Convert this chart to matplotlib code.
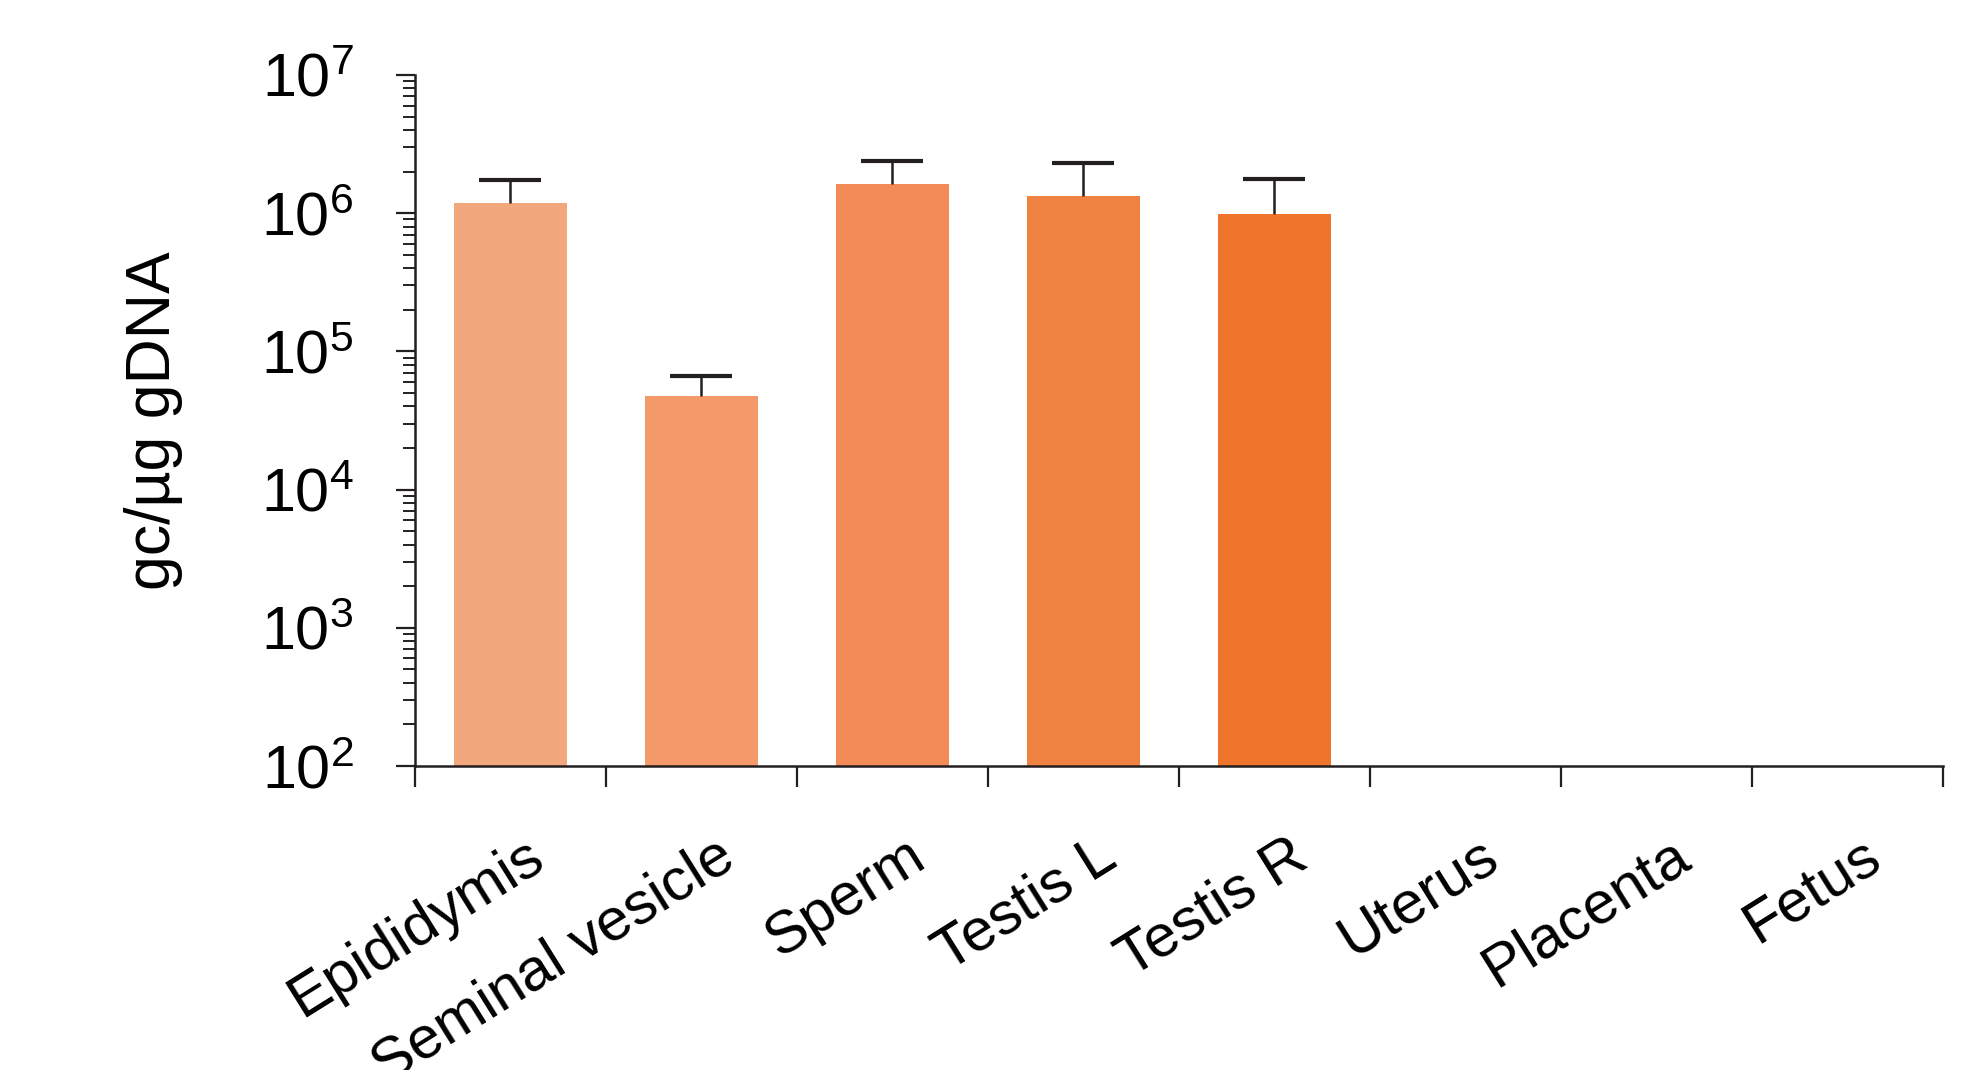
import matplotlib
matplotlib.use("Agg")
import matplotlib.pyplot as plt
import numpy as np
from matplotlib.ticker import LogLocator, FixedLocator, NullFormatter

plt.rcParams['font.family'] = ['Liberation Sans', 'DejaVu Sans']
plt.rcParams['mathtext.fontset'] = 'custom'
plt.rcParams['mathtext.rm'] = 'Liberation Sans'

categories = ["Epididymis", "Seminal vesicle", "Sperm", "Testis L", "Testis R",
              "Uterus", "Placenta", "Fetus"]
means = [1.19e6, 4.75e4, 1.63e6, 1.33e6, 0.987e6, np.nan, np.nan, np.nan]
upper = [1.74e6, 6.64e4, 2.39e6, 2.31e6, 1.77e6, np.nan, np.nan, np.nan]
colors = ["#F3A77D", "#F3996A", "#F28B55", "#F08241", "#EF742C",
          "#EF742C", "#EF742C", "#EF742C"]
ytick_vals = [1e2, 1e3, 1e4, 1e5, 1e6, 1e7]
ytick_labels = [r"$\mathregular{10^{2}}$", r"$\mathregular{10^{3}}$", r"$\mathregular{10^{4}}$",
                r"$\mathregular{10^{5}}$", r"$\mathregular{10^{6}}$", r"$\mathregular{10^{7}}$"]

fig = plt.figure(figsize=(19.78, 10.70), dpi=100)
ax = fig.add_axes([0.2098, 0.2841, 0.7725, 0.6459])

x = np.arange(len(categories))
n = 5
m = np.array(means[:n])
u = np.array(upper[:n])
ax.bar(x[:n], m, width=0.59, color=colors[:n], bottom=0, zorder=2)
eb = ax.errorbar(x[:n], m, yerr=[np.zeros(n), u - m], fmt='none', ecolor='#231F20',
                 elinewidth=1.8, capsize=22, capthick=3, zorder=3)
caplines = eb[1]
caplines[0].set_visible(False)

ax.set_yscale('log')
ax.set_ylim(1e2, 1e7)
ax.set_xlim(-0.5, len(categories) - 0.5)

ax.yaxis.set_major_locator(FixedLocator(ytick_vals))
ax.set_yticklabels(ytick_labels, fontsize=44)
ax.yaxis.set_minor_locator(LogLocator(base=10, subs=np.arange(2, 10)))
ax.yaxis.set_minor_formatter(NullFormatter())

ax.xaxis.set_major_locator(FixedLocator(np.arange(-0.5, len(categories), 1.0)))
ax.set_xticklabels([])
for i, c in enumerate(categories):
    ax.text(i + 0.07, -0.09, c, transform=ax.get_xaxis_transform(), rotation=32,
            ha='right', va='top', rotation_mode='anchor', fontsize=43)

ax.tick_params(axis='y', which='major', length=14, width=1.6, pad=30, colors='#231F20', labelcolor='black')
ax.tick_params(axis='y', which='minor', length=8.5, width=1.4, colors='#231F20')
ax.tick_params(axis='x', which='major', length=15, width=1.6, colors='#231F20')

for s in ['top', 'right']:
    ax.spines[s].set_visible(False)
for s in ['left', 'bottom']:
    ax.spines[s].set_linewidth(1.8)
    ax.spines[s].set_color('#231F20')

ax.set_ylabel("gc/µg gDNA", fontsize=45)
ax.yaxis.set_label_coords(-0.152, 0.5)

fig.savefig("out.png", dpi=100)
